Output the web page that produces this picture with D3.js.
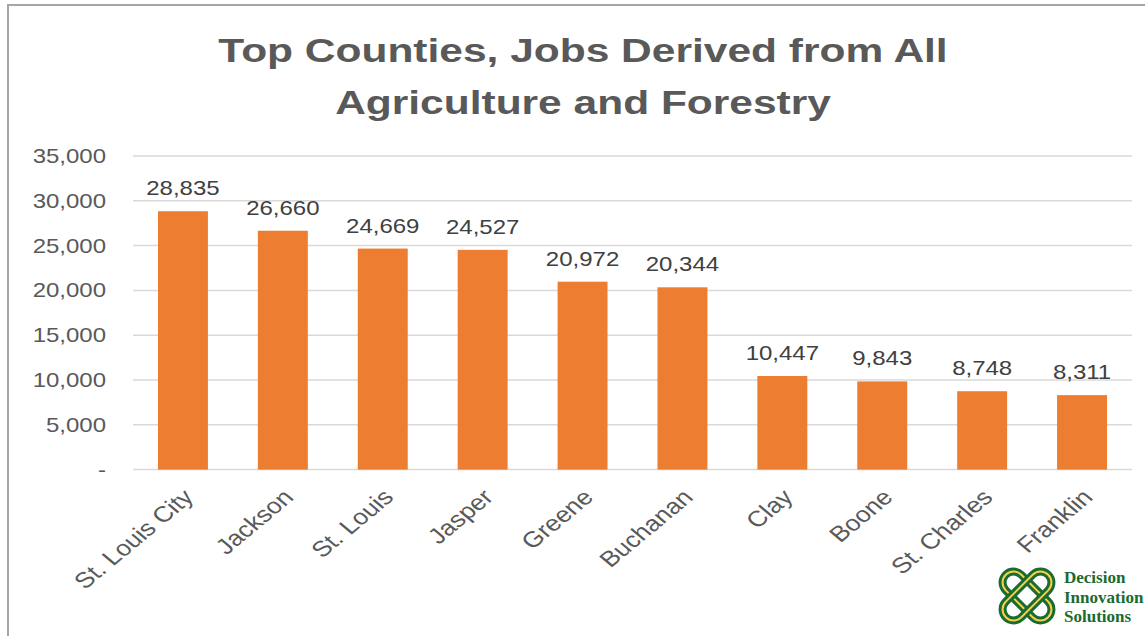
<!DOCTYPE html>
<html><head><meta charset="utf-8">
<script src="https://cdn.jsdelivr.net/npm/d3@7"></script>
<style>html,body{margin:0;padding:0;background:#fff;overflow:hidden}</style>
</head><body>
<svg id="chart" width="1145" height="636"></svg>
<script>
const categories = ["St. Louis City","Jackson","St. Louis","Jasper","Greene","Buchanan","Clay","Boone","St. Charles","Franklin"];
const values = [28835,26660,24669,24527,20972,20344,10447,9843,8748,8311];
const yTicks = [0,5000,10000,15000,20000,25000,30000,35000];
const titleLines = ["Top Counties, Jobs Derived from All","Agriculture and Forestry"];
const logoLines = ["Decision","Innovation","Solutions"];

const svg = d3.select("#chart");
const SX = 1.2; // horizontal stretch seen in reference text
const fontFam = "Arial, 'Liberation Sans', sans-serif";

// frame
svg.append("rect").attr("x",8).attr("y",5).attr("width",1200).attr("height",700)
  .attr("fill","none").attr("stroke","#a6a6a6").attr("stroke-width",2);

const m = {left:133,right:1132,top:156,bottom:469.6};
const x = d3.scaleBand().domain(categories).range([m.left,m.right]).paddingInner(0.5).paddingOuter(0.25);
const y = d3.scaleLinear().domain([0,35000]).range([m.bottom,m.top]);

// title
svg.append("g").selectAll("text").data(titleLines).join("text")
  .attr("transform",(d,i)=>`translate(583,${62+i*52}) scale(1.25,1)`)
  .attr("text-anchor","middle").attr("font-family",fontFam).attr("font-weight","bold")
  .attr("font-size",34).attr("fill","#595959").text(d=>d);

// gridlines
const fmt = d3.format(",");
svg.append("g").selectAll("line").data(yTicks).join("line")
  .attr("x1",m.left).attr("x2",m.right).attr("y1",d=>y(d)).attr("y2",d=>y(d))
  .attr("stroke","#d9d9d9").attr("stroke-width",1.5);

// y axis labels
svg.append("g").selectAll("text").data(yTicks).join("text")
  .attr("transform",d=>`translate(106,${y(d)+7}) scale(${SX},1)`)
  .attr("text-anchor","end").attr("font-family",fontFam).attr("font-size",20)
  .attr("fill","#595959").text(d=>d===0?"-":fmt(d));

// bars
svg.append("g").selectAll("rect").data(values).join("rect")
  .attr("x",(d,i)=>x(categories[i])).attr("width",x.bandwidth())
  .attr("y",d=>y(d)).attr("height",d=>y(0)-y(d)).attr("fill","#ED7D31");

// data labels
svg.append("g").selectAll("text").data(values).join("text")
  .attr("transform",(d,i)=>`translate(${x(categories[i])+x.bandwidth()/2},${y(d)-16}) scale(${SX},1)`)
  .attr("text-anchor","middle").attr("font-family",fontFam).attr("font-size",20)
  .attr("fill","#404040").text(d=>fmt(d));

// x labels
svg.append("g").selectAll("text").data(categories).join("text")
  .attr("transform",d=>`translate(${x(d)+x.bandwidth()/2+12},${m.bottom+29}) scale(${SX},1) rotate(-45)`)
  .attr("text-anchor","end").attr("font-family",fontFam).attr("font-size",22)
  .attr("fill","#595959").text(d=>d);

// logo
const logo = svg.append("g").attr("transform","translate(1027,596)");
[45,-45].forEach(a=>{
  const g = logo.append("g").attr("transform",`rotate(${a})`);
  g.append("rect").attr("x",-30).attr("y",-11).attr("width",60).attr("height",22).attr("rx",11)
    .attr("fill","none").attr("stroke","#1b6a2f").attr("stroke-width",8);
  g.append("rect").attr("x",-30).attr("y",-11).attr("width",60).attr("height",22).attr("rx",11)
    .attr("fill","none").attr("stroke","#f2d14a").attr("stroke-width",2);
});
svg.append("g").selectAll("text").data(logoLines).join("text")
  .attr("x",1064).attr("y",(d,i)=>583+i*19.5)
  .attr("font-family","'Liberation Serif','DejaVu Serif',serif").attr("font-weight","bold")
  .attr("font-size",17).attr("fill","#1b6a2f").text(d=>d);
</script>
</body></html>
